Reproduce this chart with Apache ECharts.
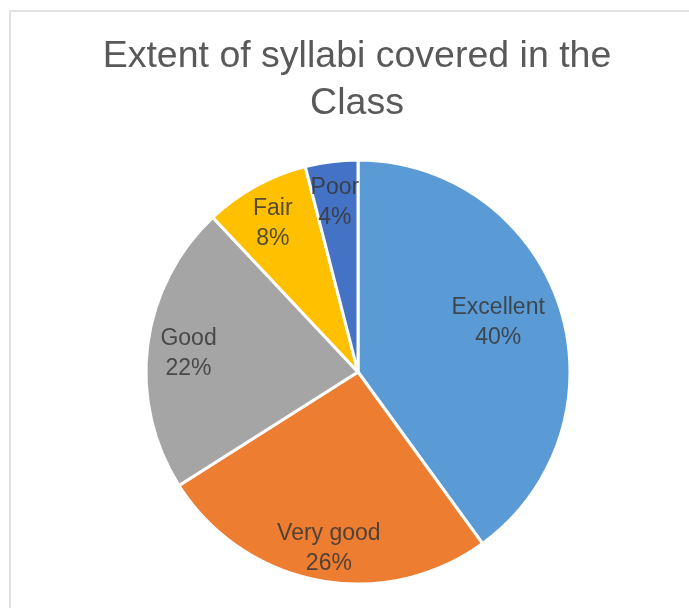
<!DOCTYPE html>
<html><head><meta charset="utf-8">
<script src="https://cdn.jsdelivr.net/npm/echarts@6/dist/echarts.min.js"></script>
<style>html,body{margin:0;padding:0;background:#fff}#c{width:689px;height:608px}</style>
</head><body><div id="c"></div>
<script>
const categories = ['Excellent', 'Very good', 'Good', 'Fair', 'Poor'];
const values = [40, 26, 22, 8, 4];
const colors = ['#5B9BD5', '#ED7D31', '#A5A5A5', '#FFC000', '#4472C4'];
const titleText = 'Extent of syllabi covered in the\nClass';

const chart = echarts.init(document.getElementById('c'));
const center = [358, 372];
const R = 212;
const labelNudges = { 'Excellent': [-28, 5], 'Very good': [4, 3], 'Good': [6, 4], 'Fair': [0, 7], 'Poor': [-1, 6] };
const mainData = categories.map((n, i) => ({ name: n, value: values[i], itemStyle: { color: colors[i] } }));
const labelData = categories.map((n, i) => ({ name: n, value: values[i], label: { offset: labelNudges[n] } }));
chart.setOption({
  animation: false,
  title: {
    text: titleText, left: 352, top: 28, textAlign: 'center',
    textStyle: { fontFamily: 'Liberation Sans', fontSize: 37.5, fontWeight: 'normal', color: '#595959', lineHeight: 47 }
  },
  graphic: [{ type: 'rect', shape: { x: 10, y: 11, width: 720, height: 640 }, style: { fill: 'none', stroke: '#d9d9d9', lineWidth: 1.5 }, silent: true }],
  series: [
    {
      type: 'pie', center: center, radius: [0, R], startAngle: 90, clockwise: true,
      itemStyle: { borderColor: '#fff', borderWidth: 3 },
      label: { show: false }, labelLine: { show: false },
      data: mainData
    },
    {
      type: 'pie', center: center, radius: [0, 2 * 0.82 * R], startAngle: 90, clockwise: true,
      silent: true,
      itemStyle: { color: 'rgba(0,0,0,0)', borderWidth: 0 },
      label: {
        show: true, position: 'inside',
        formatter: p => p.name + '\n' + p.value + '%',
        fontFamily: 'Liberation Sans', fontSize: 23, lineHeight: 30, color: 'rgba(55,55,55,0.85)'
      },
      labelLine: { show: false },
      data: labelData
    }
  ]
});
</script></body></html>
